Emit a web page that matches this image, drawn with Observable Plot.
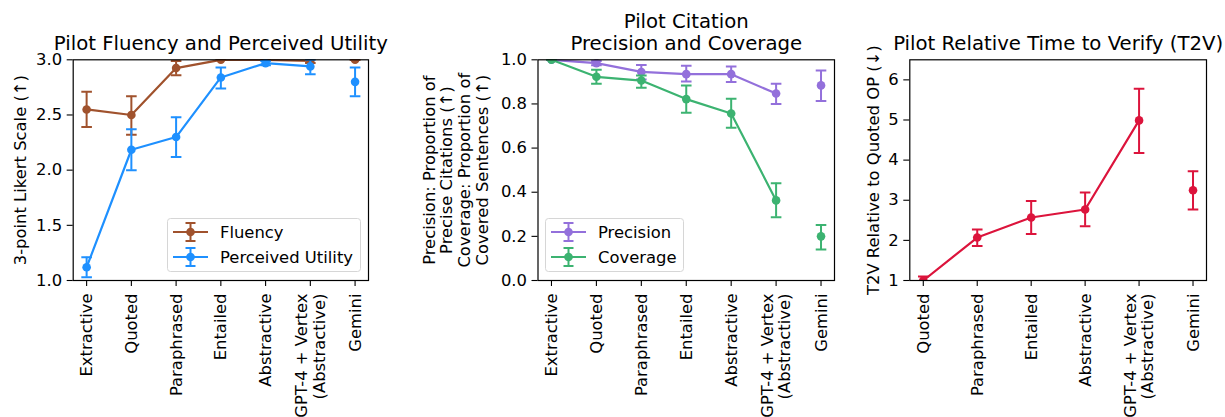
<!DOCTYPE html>
<html><head><meta charset="utf-8">
<script src="https://cdn.jsdelivr.net/npm/d3@7"></script>
<script src="https://cdn.jsdelivr.net/npm/@observablehq/plot@0.6"></script>
<style>
body{margin:0;background:#fff;}
#wrap{position:relative;width:1225px;height:417px;display:flex;font-family:"DejaVu Sans";background:#fff;}
#wrap svg{overflow:visible;}
</style></head><body><div id="wrap"></div>
<script>
// ---- data ----
const categories = ["Extractive","Quoted","Paraphrased","Entailed","Abstractive","GPT-4 + Vertex\n(Abstractive)","Gemini"];
const t2vCategories = ["Quoted","Paraphrased","Entailed","Abstractive","GPT-4 + Vertex\n(Abstractive)","Gemini"];

const fluency   = [2.55, 2.50, 2.925, 3.00, 3.00, 2.99, 3.00];
const fluencyLo = [2.39, 2.32, 2.86, 3.00, 3.00, 2.97, 3.00];
const fluencyHi = [2.71, 2.67, 2.99, 3.00, 3.00, 3.01, 3.00];

const utility   = [1.12, 2.185, 2.30, 2.84, 2.97, 2.94, 2.80];
const utilityLo = [1.03, 2.00, 2.12, 2.74, 2.95, 2.87, 2.67];
const utilityHi = [1.21, 2.37, 2.48, 2.93, 2.99, 3.00, 2.93];

const precision   = [1.00, 0.985, 0.945, 0.935, 0.935, 0.847, 0.884];
const precisionLo = [1.00, 0.975, 0.911, 0.902, 0.899, 0.800, 0.813];
const precisionHi = [1.00, 0.995, 0.976, 0.973, 0.970, 0.891, 0.952];

const coverage   = [1.00, 0.923, 0.906, 0.822, 0.757, 0.363, 0.200];
const coverageLo = [1.00, 0.891, 0.873, 0.760, 0.692, 0.287, 0.140];
const coverageHi = [1.00, 0.955, 0.929, 0.884, 0.823, 0.441, 0.252];

const t2v   = [1.00, 2.07, 2.57, 2.77, 4.99, 3.25];
const t2vLo = [0.90, 1.86, 2.16, 2.35, 4.18, 2.77];
const t2vHi = [1.10, 2.27, 2.98, 3.19, 5.78, 3.72];

const likertTicks = [1.0, 1.5, 2.0, 2.5, 3.0];
const propTicks = [0.0, 0.2, 0.4, 0.6, 0.8, 1.0];
const t2vTicks = [1, 2, 3, 4, 5, 6];

const COLORS = {fluency:"#a0522d", utility:"#1e90ff", precision:"#9370db", coverage:"#3cb371", t2v:"#dc143c"};

// ---- helpers ----
const FS = 16.4, TFS = 19.7;
const capSymbol = {draw(ctx, size){ const r = Math.sqrt(size/Math.PI); ctx.moveTo(-r,0); ctx.lineTo(r,0); }};

function seriesMarks(vals, lo, hi, color, nConnected){
  const data = vals.map((v,i)=>({i, v, lo: lo[i], hi: hi[i]}));
  const lineData = data.filter(d => d.i < nConnected);
  return [
    Plot.ruleX(data, {x:"i", y1:"lo", y2:"hi", stroke: color, strokeWidth: 2, clip: true}),
    Plot.dot(data, {x:"i", y:"lo", symbol: capSymbol, r: 5.3, stroke: color, strokeWidth: 2, fill: "none", clip: true}),
    Plot.dot(data, {x:"i", y:"hi", symbol: capSymbol, r: 5.3, stroke: color, strokeWidth: 2, fill: "none", clip: true}),
    Plot.line(lineData, {x:"i", y:"v", stroke: color, strokeWidth: 2.2, clip: true}),
    Plot.dot(data, {x:"i", y:"v", r: 4.3, fill: color, stroke: "none", clip: true})
  ];
}

function panel({width, marginLeft, marginRight, xDomain, yDomain, yTicks, yFormat, cats, series, title, ylabel, labelDx}){
  const idx = cats.map((_, i) => i);
  return Plot.plot({
    width, height: 417, marginLeft, marginRight, marginTop: 59.3, marginBottom: 137,
    style: {fontFamily: "DejaVu Sans", fontSize: FS + "px", color: "black", background: "white", overflow: "visible"},
    x: {type: "linear", domain: xDomain},
    y: {type: "linear", domain: yDomain},
    marks: [
      ...series.flatMap(s => seriesMarks(s.values, s.lo, s.hi, s.color, cats.length - 1)),
      Plot.frame({stroke: "black", strokeWidth: 1.2}),
      Plot.axisY({ticks: yTicks, tickFormat: yFormat, tickSize: 6, tickPadding: 5, label: null, fontSize: FS, strokeWidth: 1.1}),
      Plot.axisX({ticks: idx, tickFormat: () => "", tickSize: 6, label: null, strokeWidth: 1.1}),
      Plot.text(idx, {x: d => d, text: d => cats[d], frameAnchor: "bottom", rotate: -90, textAnchor: "end", lineAnchor: "middle", dy: 13, fontSize: FS, lineHeight: 1.06, fill: "black"}),
      Plot.text([title], {text: d => d, frameAnchor: "top", dy: -10, lineAnchor: "bottom", fontSize: TFS, lineHeight: 1.1, fill: "black"}),
      Plot.text([ylabel], {text: d => d, frameAnchor: "left", rotate: -90, dx: labelDx, textAnchor: "middle", lineAnchor: "middle", fontSize: FS, lineHeight: 1.08, fill: "black"})
    ]
  });
}

const wrap = document.getElementById("wrap");

wrap.append(panel({
  width: 410, marginLeft: 72.7, marginRight: 42, xDomain: [-0.3, 6.3], yDomain: [1, 3],
  yTicks: likertTicks, yFormat: d3.format(".1f"), cats: categories,
  series: [
    {values: fluency, lo: fluencyLo, hi: fluencyHi, color: COLORS.fluency},
    {values: utility, lo: utilityLo, hi: utilityHi, color: COLORS.utility}
  ],
  title: "Pilot Fluency and Perceived Utility",
  ylabel: "3-point Likert Scale (↑)", labelDx: -53
}));

wrap.append(panel({
  width: 430, marginLeft: 127.5, marginRight: 6, xDomain: [-0.3, 6.3], yDomain: [0, 1],
  yTicks: propTicks, yFormat: d3.format(".1f"), cats: categories,
  series: [
    {values: precision, lo: precisionLo, hi: precisionHi, color: COLORS.precision},
    {values: coverage, lo: coverageLo, hi: coverageHi, color: COLORS.coverage}
  ],
  title: "Pilot Citation\nPrecision and Coverage",
  ylabel: "Precision: Proportion of\nPrecise Citations (↑)\nCoverage: Proportion of\nCovered Sentences (↑)", labelDx: -82.5
}));

wrap.append(panel({
  width: 385, marginLeft: 69.3, marginRight: 19, xDomain: [-0.25, 5.25], yDomain: [1, 6.5],
  yTicks: t2vTicks, yFormat: d3.format("d"), cats: t2vCategories,
  series: [
    {values: t2v, lo: t2vLo, hi: t2vHi, color: COLORS.t2v}
  ],
  title: "Pilot Relative Time to Verify (T2V)",
  ylabel: "T2V Relative to Quoted OP (↓)", labelDx: -36
}));

// ---- legends ----
function legend(left, top, w, h, items){
  const svg = d3.select(wrap).append("svg")
    .attr("width", w).attr("height", h)
    .style("position", "absolute").style("left", left + "px").style("top", top + "px")
    .style("font-family", "DejaVu Sans").style("font-size", FS + "px");
  svg.append("rect").attr("x", 0.5).attr("y", 0.5).attr("width", w - 1).attr("height", h - 1)
    .attr("rx", 3).attr("fill", "white").attr("fill-opacity", 0.8).attr("stroke", "#d6d6d6");
  items.forEach((it, k) => {
    const cy = 14 + k * 25, cx = 23.5;
    const g = svg.append("g").attr("stroke", it.color).attr("stroke-width", 2);
    g.append("line").attr("x1", 6).attr("x2", 41).attr("y1", cy).attr("y2", cy).attr("stroke-width", 2.2);
    g.append("line").attr("x1", cx).attr("x2", cx).attr("y1", cy - 9).attr("y2", cy + 9);
    g.append("line").attr("x1", cx - 5).attr("x2", cx + 5).attr("y1", cy - 9).attr("y2", cy - 9);
    g.append("line").attr("x1", cx - 5).attr("x2", cx + 5).attr("y1", cy + 9).attr("y2", cy + 9);
    svg.append("circle").attr("cx", cx).attr("cy", cy).attr("r", 4.3).attr("fill", it.color);
    svg.append("text").attr("x", 53).attr("y", cy).attr("dy", "0.35em").attr("fill", "black").text(it.label);
  });
}
legend(167, 218, 194, 54, [{label: "Fluency", color: COLORS.fluency}, {label: "Perceived Utility", color: COLORS.utility}]);
legend(545, 218, 139, 54, [{label: "Precision", color: COLORS.precision}, {label: "Coverage", color: COLORS.coverage}]);
</script>
</body></html>
